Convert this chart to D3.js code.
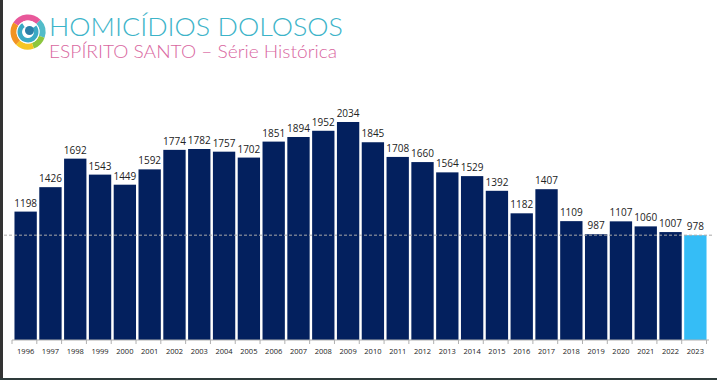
<!DOCTYPE html>
<html><head><meta charset="utf-8">
<script src="https://cdn.jsdelivr.net/npm/d3@7"></script>
<style>html,body{margin:0;padding:0;background:#fff;}svg{display:block;}</style>
</head><body>
<svg id="c" width="717" height="380"></svg>
<script>
const years = ["1996","1997","1998","1999","2000","2001","2002","2003","2004","2005","2006","2007","2008","2009","2010","2011","2012","2013","2014","2015","2016","2017","2018","2019","2020","2021","2022","2023"];
const values = [1198,1426,1692,1543,1449,1592,1774,1782,1757,1702,1851,1894,1952,2034,1845,1708,1660,1564,1529,1392,1182,1407,1109,987,1107,1060,1007,978];
const referenceValue = 978;
const title = "HOMICÍDIOS DOLOSOS";
const subtitle = "ESPÍRITO SANTO – Série Histórica";

const svg = d3.select("#c");
svg.append("rect").attr("x",0).attr("y",0).attr("width",717).attr("height",380).attr("fill","#fff");
// frame edges
svg.append("rect").attr("x",0).attr("y",0).attr("width",3).attr("height",380).attr("fill","#333");
svg.append("rect").attr("x",0).attr("y",378).attr("width",717).attr("height",2).attr("fill","#2e3b3b");

// logo
const logo = svg.append("g").attr("transform","translate(28,32)");
const arc = d3.arc();
const ringSegs = [
  {s:-1.0, e:0.8, c:"#e8589a"},
  {s:0.8, e:1.9, c:"#52bcc9"},
  {s:1.9, e:2.8, c:"#8cc63f"},
  {s:2.8, e:3.9, c:"#f5c623"},
  {s:3.9, e:5.29, c:"#f39321"}
];
ringSegs.forEach(r=>{
  logo.append("path").attr("d",arc({innerRadius:11.5,outerRadius:17.5,startAngle:r.s,endAngle:r.e})).attr("fill",r.c);
});
logo.append("circle").attr("r",11.5).attr("fill","#fff");
logo.append("path").attr("d",arc({innerRadius:6,outerRadius:10.5,startAngle:0.9,endAngle:5.7})).attr("fill","#3aa9c4");
logo.append("circle").attr("cx",1.5).attr("cy",-1.5).attr("r",4.5).attr("fill","#2b7fa8");

svg.append("text").attr("x",49).attr("y",35.5).text(title)
  .attr("font-family","Lato, sans-serif").attr("font-weight",300).attr("font-size",25.5)
  .attr("fill","#3db4c9").attr("textLength",294).attr("lengthAdjust","spacingAndGlyphs");
svg.append("text").attr("x",49).attr("y",57.5).text(subtitle)
  .attr("font-family","Lato, sans-serif").attr("font-weight",300).attr("font-size",17)
  .attr("fill","#d9679f").attr("textLength",288).attr("lengthAdjust","spacingAndGlyphs");

const x = d3.scaleBand().domain(years).range([12,709]).padding(0.1);
const y = d3.scaleLinear().domain([0,2200]).range([340,104.2]);

svg.selectAll("rect.bar").data(years).enter().append("rect").attr("class","bar")
  .attr("x",d=>x(d)).attr("width",x.bandwidth())
  .attr("y",(d,i)=>y(values[i])).attr("height",(d,i)=>y(0)-y(values[i]))
  .attr("fill",(d,i)=> i===years.length-1 ? "#35bdf6" : "#03205e");

// reference dashed line (over bars)
svg.append("line").attr("x1",4).attr("x2",712).attr("y1",y(referenceValue)).attr("y2",y(referenceValue))
  .attr("stroke","#a8a8a8").attr("stroke-width",1).attr("stroke-dasharray","3,2");

svg.selectAll("text.val").data(years).enter().append("text").attr("class","val")
  .attr("x",d=>x(d)+x.bandwidth()/2).attr("y",(d,i)=>y(values[i])-5)
  .attr("text-anchor","middle").attr("font-family","Open Sans, sans-serif").attr("font-size",10)
  .attr("fill","#222").text((d,i)=>values[i]);

// axis
const ax = svg.append("g").attr("transform","translate(0,340)");
ax.append("line").attr("x1",12).attr("x2",709).attr("stroke","#b0b0b0");
const step = x.step();
d3.range(years.length+1).forEach(i=>{
  const xx = 12 + i*step;
  ax.append("line").attr("x1",xx).attr("x2",xx).attr("y1",0).attr("y2",4).attr("stroke","#b0b0b0");
});
ax.selectAll("text").data(years).enter().append("text")
  .attr("x",d=>x(d)+x.bandwidth()/2).attr("y",14).attr("text-anchor","middle")
  .attr("font-family","Open Sans, sans-serif").attr("font-size",7.5).attr("fill","#222").text(d=>d);
</script>
</body></html>
